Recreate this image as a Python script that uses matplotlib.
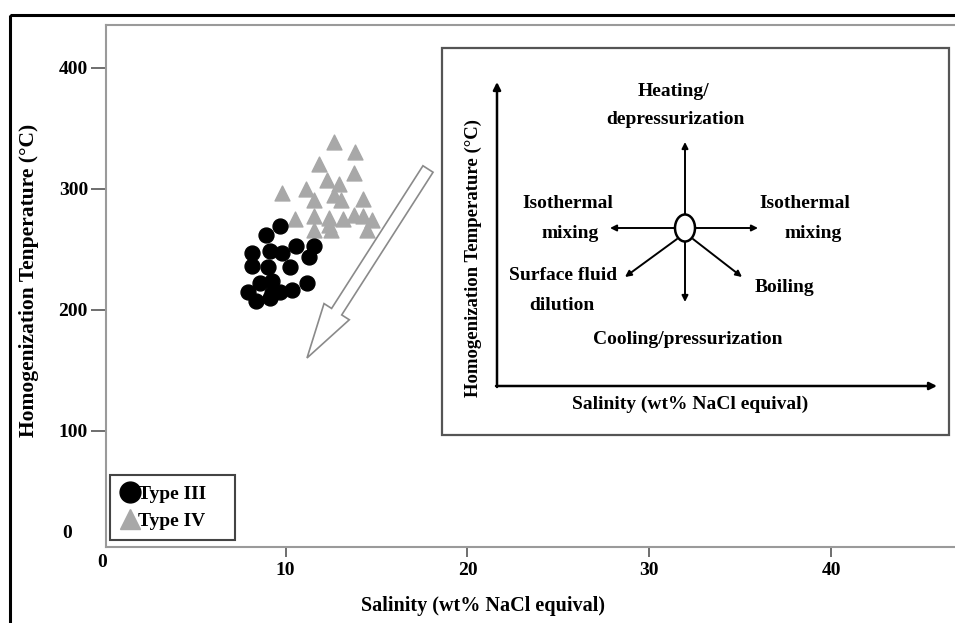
import numpy as np
import matplotlib.pyplot as plt
import matplotlib.patches as mpatches
from matplotlib.lines import Line2D

plt.rcParams['font.family'] = ['Liberation Serif', 'DejaVu Serif']
plt.rcParams['font.weight'] = 'bold'

# Type III inclusions (circles)
type3_salinity = [9.72, 8.90, 10.60, 11.54, 9.17, 9.78, 8.18, 11.27, 8.18, 9.01,
                  10.22, 8.57, 9.23, 11.16, 7.96, 9.23, 9.72, 10.33, 8.40, 9.17]
type3_temp = [269.4, 262.0, 252.9, 252.9, 248.8, 247.1, 247.1, 243.8, 236.4, 235.5,
              235.5, 222.3, 223.9, 222.3, 214.9, 214.0, 214.9, 216.5, 207.4, 209.9]

# Type IV inclusions (triangles)
type4_salinity = [12.65, 13.81, 11.82, 13.75, 12.26, 12.92, 9.83, 11.10, 11.54, 12.65,
                  13.03, 14.25, 10.50, 11.54, 12.37, 13.14, 13.75, 14.25, 14.74, 11.54,
                  12.48, 14.47, 12.37]
type4_temp = [338.8, 330.6, 320.7, 313.2, 307.4, 304.1, 296.7, 300.0, 290.9, 295.0,
              290.9, 291.7, 275.2, 277.7, 270.2, 275.2, 278.5, 277.7, 274.4, 266.1,
              266.1, 266.1, 276.0]

x_ticks = [10, 20, 30, 40]
y_ticks = [100, 200, 300, 400]

W, H = 955, 623
fig = plt.figure(figsize=(W / 100, H / 100), dpi=100)

# main axes, placed by pixel box
left, right, top, bottom = 106, 955, 25, 547
ax = fig.add_axes([left / W, (H - bottom) / H, (right - left) / W, (bottom - top) / H])

ax.scatter(type3_salinity, type3_temp, marker='o', s=115, color='black', zorder=3)
ax.scatter(type4_salinity, type4_temp, marker='^', s=115, color='#a8a8a8', zorder=2)

ax.set_xlim(0.13, 46.8)
ax.set_ylim(4.1, 435.5)
ax.set_xticks(x_ticks)
ax.set_yticks(y_ticks)
ax.tick_params(axis='y', length=11, width=1.2, color='#555555', pad=2, labelsize=14)
ax.tick_params(axis='x', length=7, width=1.2, color='#555555', pad=4, labelsize=14)
for lab in ax.get_xticklabels() + ax.get_yticklabels():
    lab.set_fontweight('bold')
for side in ['left', 'bottom', 'top']:
    ax.spines[side].set_color('#9a9a9a')
    ax.spines[side].set_linewidth(1.5)
ax.spines['right'].set_visible(False)

# corner zero labels
ax.text(-0.046, 0.025, '0', transform=ax.transAxes, ha='center', va='center',
        fontsize=14, fontweight='bold')
ax.text(-0.005, -0.029, '0', transform=ax.transAxes, ha='center', va='center',
        fontsize=14, fontweight='bold')

ax.set_xlabel('Salinity (wt% NaCl equival)', fontsize=14.5, fontweight='bold')
ax.xaxis.set_label_coords(0.444, -0.093)
ax.set_ylabel('Homogenization Tenperature (°C)', fontsize=15.5, fontweight='bold')
ax.yaxis.set_label_coords(-0.079, 0.51)

handles = [Line2D([], [], marker='o', color='black', ls='', markersize=15),
           Line2D([], [], marker='^', color='#a8a8a8', ls='', markersize=15)]
leg = ax.legend(handles, ['Type III', 'Type IV'], loc='lower left',
                bbox_to_anchor=(0.005, 0.013, 125 / 849, 0.13), mode='expand',
                fancybox=False, framealpha=1,
                edgecolor='#444444', handlelength=0.9, handletextpad=0.0,
                borderpad=0.55, labelspacing=0.45, borderaxespad=0,
                prop={'size': 14, 'weight': 'bold'})
leg.get_frame().set_linewidth(1.5)

# overlay in pixel units for the decorations
ov = fig.add_axes([0, 0, 1, 1], facecolor='none')
ov.set_xlim(0, W)
ov.set_ylim(H, 0)
ov.axis('off')

# outer frame
ov.add_patch(mpatches.Rectangle((10, 15), 980, 650, fill=False, ec='black', lw=2.2))

# big hollow arrow
ov.add_patch(mpatches.FancyArrow(428, 169, 307 - 428, 358 - 169, width=12,
                                 head_width=30, head_length=55,
                                 length_includes_head=True, fc='white',
                                 ec='#8a8a8a', lw=1.2))

# inset schematic
ov.add_patch(mpatches.Rectangle((442, 48), 507, 387, fc='white', ec='#555555', lw=1.6))
arr = dict(arrowstyle='-|>', color='black', lw=1.8, mutation_scale=11, shrinkA=0, shrinkB=0)
ov.annotate('', xy=(497, 82), xytext=(497, 387), arrowprops=arr)
ov.annotate('', xy=(937, 386), xytext=(496, 386), arrowprops=arr)

ov.add_patch(mpatches.Ellipse((685, 228), 20, 27, fc='white', ec='black', lw=1.8, zorder=4))
small = dict(arrowstyle='-|>', color='black', lw=1.4, mutation_scale=9, shrinkA=0, shrinkB=0)
for start, end in [((685, 214), (685, 142)), ((685, 242), (685, 302)),
                   ((675, 228), (610, 228)), ((695, 228), (758, 228)),
                   ((677, 239), (625, 277)), ((693, 239), (742, 277))]:
    ov.annotate('', xy=end, xytext=start, arrowprops=small)

labels = [('Heating/', 673, 92), ('depressurization', 675, 120),
          ('Isothermal', 568, 204), ('mixing', 570, 233),
          ('Isothermal', 805, 204), ('mixing', 813, 233),
          ('Surface fluid', 563, 275), ('dilution', 562, 305),
          ('Boiling', 785, 287), ('Cooling/pressurization', 688, 340),
          ('Salinity (wt% NaCl equival)', 690, 404)]
for txt, x, y in labels:
    ov.text(x, y, txt, ha='center', va='center', fontsize=14, fontweight='bold')
ov.text(473, 258, 'Homogenization Temperature (°C)', rotation=90, ha='center',
        va='center', fontsize=13.5, fontweight='bold')

fig.savefig('out.png', dpi=100)
